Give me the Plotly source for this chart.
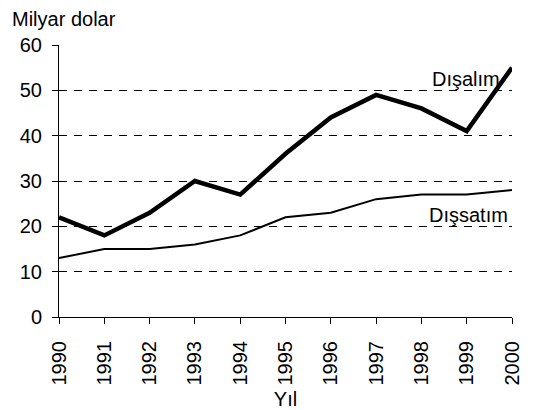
import plotly.graph_objects as go

years = [1990, 1991, 1992, 1993, 1994, 1995, 1996, 1997, 1998, 1999, 2000]
disalim = [22, 18, 23, 30, 27, 36, 44, 49, 46, 41, 55]
dissatim = [13, 15, 15, 16, 18, 22, 23, 26, 27, 27, 28]
y_ticks = [0, 10, 20, 30, 40, 50, 60]

FONT = "Liberation Sans, Arial, sans-serif"

fig = go.Figure()
fig.add_trace(go.Scatter(x=years, y=disalim, mode="lines", name="Dışalım",
                         line=dict(color="black", width=4.5), showlegend=False))
fig.add_trace(go.Scatter(x=years, y=dissatim, mode="lines", name="Dışsatım",
                         line=dict(color="black", width=2), showlegend=False))

fig.add_annotation(x=1998.98, y=52.6, text="Dışalım", showarrow=False,
                   font=dict(family=FONT, size=20, color="black"))
fig.add_annotation(x=1999.05, y=22.6, text="Dışsatım", showarrow=False,
                   font=dict(family=FONT, size=20, color="black"))
fig.add_annotation(x=0, y=1, xref="paper", yref="paper", xanchor="left", yanchor="bottom",
                   xshift=-49, yshift=13, text="Milyar dolar", showarrow=False,
                   font=dict(family=FONT, size=20, color="black"))

fig.update_layout(
    width=525, height=402,
    margin=dict(l=51, r=21, t=37, b=93),
    paper_bgcolor="white", plot_bgcolor="white",
    font=dict(family=FONT, size=20, color="black"),
    xaxis=dict(range=[1990, 2000], tickvals=years, ticktext=[str(y) for y in years],
               tickangle=-90, showgrid=False, zeroline=False, showline=True,
               linecolor="black", linewidth=1, ticks="outside", ticklen=6,
               tickcolor="black", ticklabelstandoff=9, automargin=False,
               title=dict(text="Yıl", standoff=7, font=dict(size=20)),
               tickfont=dict(size=20)),
    yaxis=dict(range=[0, 60], tickvals=y_ticks, showgrid=True, gridcolor="black",
               griddash="8px,7px", gridwidth=1, zeroline=False, showline=True,
               linecolor="black", linewidth=1, ticks="outside", ticklen=6,
               tickcolor="black", ticklabelstandoff=6, automargin=False,
               tickfont=dict(size=20)),
)

fig.write_html("out.html")
